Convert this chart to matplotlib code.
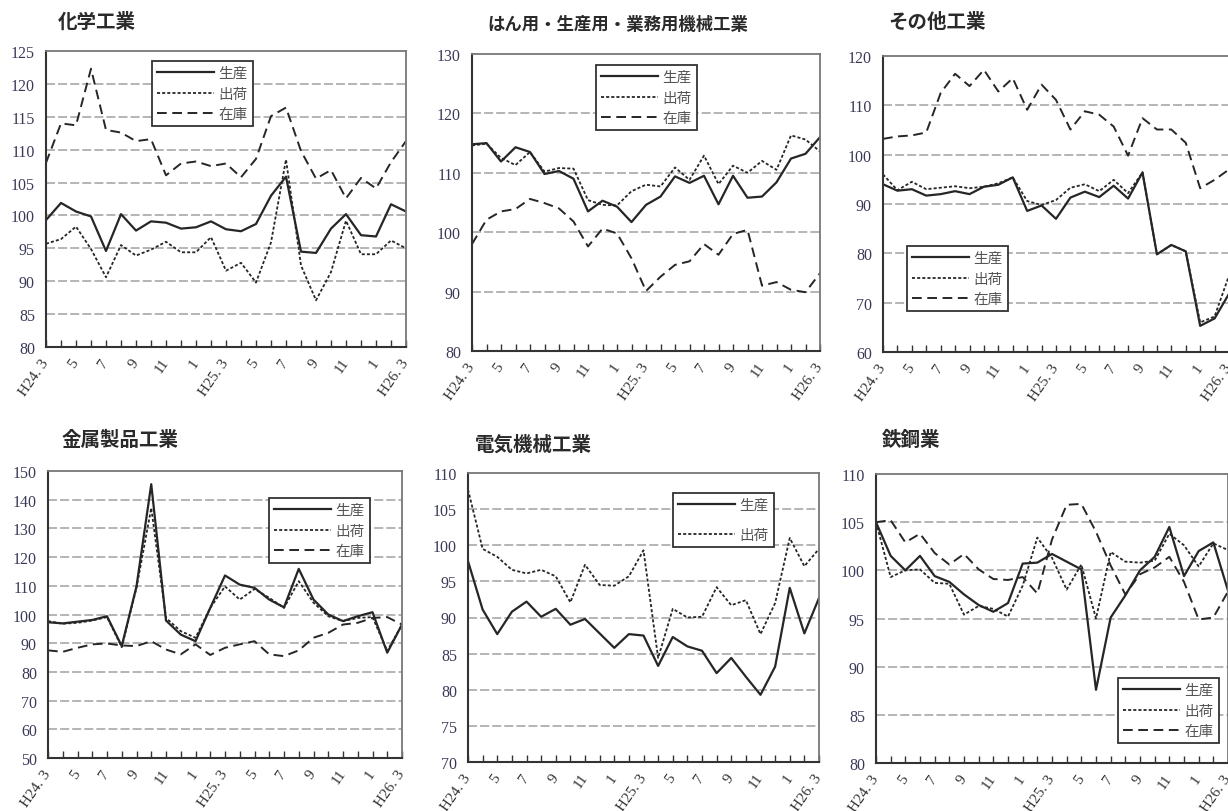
import matplotlib
matplotlib.use("Agg")
import matplotlib.pyplot as plt

plt.rcParams['font.family'] = ['Liberation Serif', 'Noto Sans CJK JP']
plt.rcParams['lines.scale_dashes'] = False

# H24.3 .. H26.3, one point per month
month_labels = ["H24. 3", "", "5", "", "7", "", "9", "", "11", "", "1", "",
                "H25. 3", "", "5", "", "7", "", "9", "", "11", "", "1", "",
                "H26. 3"]
series_names = ["生産", "出荷", "在庫"]

# 化学工業
chem_prod = [99.3, 101.9, 100.6, 99.85, 94.6, 100.2, 97.7, 99.1, 98.9, 98.0, 98.2, 99.1,
             97.9, 97.6, 98.7, 103.0, 105.9, 94.5, 94.3, 98.0, 100.2, 97.0, 96.8, 101.7, 100.6]
chem_ship = [95.7, 96.4, 98.3, 94.9, 90.6, 95.5, 93.9, 94.8, 96.0, 94.4, 94.4, 96.7,
             91.6, 92.8, 89.8, 95.9, 108.5, 92.4, 87.1, 91.4, 99.2, 94.1, 94.1, 96.2, 95.0]
chem_stock = [108.0, 114.0, 113.7, 122.3, 113.0, 112.6, 111.3, 111.6, 106.1, 107.9, 108.2, 107.5,
              107.9, 105.8, 108.6, 115.1, 116.4, 109.8, 105.6, 106.9, 102.6, 105.7, 104.1, 108.1, 111.3]

# はん用・生産用・業務用機械工業
mach_prod = [114.8, 115.0, 111.9, 114.3, 113.5, 109.8, 110.3, 109.0, 103.5, 105.3, 104.3, 101.7,
             104.6, 106.0, 109.4, 108.3, 109.5, 104.7, 109.5, 105.8, 106.0, 108.4, 112.4, 113.2, 116.0]
mach_ship = [114.6, 114.9, 112.5, 111.3, 113.5, 110.2, 110.8, 110.7, 105.4, 104.6, 104.5, 106.9,
             108.0, 107.7, 110.9, 108.8, 112.9, 108.1, 111.2, 110.0, 112.0, 110.5, 116.3, 115.6, 113.6]
mach_stock = [98.0, 102.1, 103.5, 103.9, 105.6, 104.9, 104.0, 101.8, 97.6, 100.6, 99.8, 95.6,
              90.1, 92.5, 94.5, 95.1, 98.0, 96.2, 99.7, 100.4, 91.0, 91.6, 90.3, 89.9, 93.1]

# その他工業
other_prod = [94.0, 92.7, 93.0, 91.7, 92.0, 92.6, 92.0, 93.5, 93.9, 95.4, 88.6, 89.7,
              87.0, 91.3, 92.5, 91.4, 93.7, 91.1, 96.4, 79.8, 81.7, 80.4, 65.3, 66.8, 71.8]
other_ship = [96.0, 92.8, 94.5, 93.0, 93.3, 93.6, 93.2, 93.5, 94.2, 95.4, 90.6, 89.8,
              90.8, 93.3, 94.0, 92.6, 94.9, 92.2, 96.4, 79.8, 81.7, 80.4, 66.0, 67.2, 75.5]
other_stock = [103.2, 103.7, 103.9, 104.5, 112.5, 116.4, 113.9, 117.2, 112.8, 115.5, 109.1, 114.2,
               111.1, 105.1, 108.8, 108.1, 105.7, 99.8, 107.4, 105.1, 105.1, 102.4, 93.2, 94.9, 97.0]

# 金属製品工業
metal_prod = [97.3, 96.9, 97.5, 98.1, 99.4, 89.0, 109.8, 145.4, 97.9, 93.0, 90.7, 102.3,
              113.6, 110.4, 109.3, 105.2, 102.5, 115.9, 105.2, 100.0, 97.7, 99.4, 100.8, 86.7, 96.5]
metal_ship = [97.7, 96.8, 97.1, 97.9, 99.1, 88.6, 109.3, 137.1, 98.8, 94.2, 91.9, 102.3,
              109.8, 105.2, 108.9, 105.8, 102.3, 111.6, 104.1, 99.4, 97.7, 98.8, 99.1, 87.3, 96.5]
metal_stock = [87.5, 87.0, 88.4, 89.6, 89.9, 89.2, 89.0, 90.7, 87.8, 86.1, 89.6, 85.9,
               88.4, 89.6, 90.7, 86.1, 85.5, 87.5, 91.9, 93.6, 96.5, 97.1, 98.8, 99.1, 96.5]

# 電気機械工業
elec_prod = [97.8, 91.1, 87.7, 90.8, 92.2, 90.1, 91.2, 89.0, 89.8, 87.8, 85.8, 87.7,
             87.5, 83.3, 87.3, 86.0, 85.4, 82.3, 84.4, 81.8, 79.3, 83.2, 94.1, 87.8, 92.7]
elec_ship = [107.7, 99.5, 98.4, 96.6, 96.1, 96.6, 95.7, 92.1, 97.3, 94.5, 94.4, 95.7,
             99.3, 84.4, 91.2, 90.0, 90.1, 94.2, 91.7, 92.4, 87.7, 92.0, 101.0, 97.1, 99.5]

# 鉄鋼業
steel_prod = [105.0, 101.5, 100.0, 101.5, 99.4, 98.8, 97.5, 96.4, 95.7, 96.6, 100.7, 100.8,
              101.7, 100.9, 100.1, 87.6, 95.1, 97.4, 100.0, 101.4, 104.5, 99.4, 102.0, 102.9, 97.9]
steel_ship = [105.0, 99.3, 100.0, 100.1, 98.7, 98.6, 95.4, 96.3, 96.0, 95.2, 98.4, 103.4,
              101.3, 98.0, 100.6, 95.0, 101.9, 100.9, 100.8, 101.0, 103.8, 102.6, 100.4, 102.8, 102.1]
steel_stock = [105.0, 105.2, 102.9, 103.8, 101.8, 100.6, 101.7, 100.1, 99.1, 99.0, 99.3, 97.6,
               103.2, 106.8, 106.9, 104.0, 100.5, 97.5, 99.6, 100.3, 101.4, 98.8, 94.9, 95.1, 97.8]

W, H = 1228, 812
fig = plt.figure(figsize=(W / 100, H / 100), dpi=100)

LINE = "#262626"
styles = [dict(linestyle="-", linewidth=1.6),
          dict(linestyle=(0, (2.2, 1.5)), linewidth=1.3),
          dict(linestyle=(0, (7, 4)), linewidth=1.4)]


def px_rect(left, right, top, bottom):
    return [left / W, 1 - bottom / H, (right - left) / W, (bottom - top) / H]


def panel(rect, title, title_xy, ymin, ymax, step, data, leg_xy,
          leg_spacing=0.45, title_size=14):
    ax = fig.add_axes(px_rect(*rect))
    x = range(len(month_labels))
    for vals, name, st in zip(data, series_names, styles):
        ax.plot(x, vals, color=LINE, label=name, **st)
    ax.set_xlim(0, len(month_labels) - 1)
    ax.set_ylim(ymin, ymax)
    yt = list(range(ymin, ymax + 1, step))
    ax.set_yticks(yt)
    ax.set_yticklabels([str(v) for v in yt], fontsize=11.5, color="#3a3a58")
    ax.set_xticks(list(x))
    ax.set_xticklabels(month_labels, fontsize=11, color="#333333",
                       rotation=55, ha="right", va="center", rotation_mode="anchor")
    ax.tick_params(axis="x", direction="in", length=5, width=1.0, color="#333333", pad=9)
    ax.tick_params(axis="y", length=0, pad=8)
    for v in yt[1:-1]:
        ax.axhline(v, color="#a8a8a8", linewidth=1.2, linestyle=(0, (6.5, 2.2)), zorder=0.5)
    for side in ["left", "bottom"]:
        ax.spines[side].set_color("#333333")
        ax.spines[side].set_linewidth(1.5)
    for side in ["top", "right"]:
        ax.spines[side].set_color("#777777")
        ax.spines[side].set_linewidth(1.3)
    leg = ax.legend(loc="upper left", bbox_to_anchor=leg_xy, borderaxespad=0,
                    fancybox=False, framealpha=1, edgecolor="#333333",
                    handlelength=3.9, handletextpad=0.3, labelspacing=leg_spacing,
                    borderpad=0.35,
                    prop=dict(family="Noto Sans CJK JP", size=10.5))
    leg.get_frame().set_linewidth(1.3)
    for t in leg.get_texts():
        t.set_color("#555555")
    fig.text(title_xy[0] / W, 1 - title_xy[1] / H, title, ha="left", va="center",
             fontsize=title_size, fontweight="bold", color="#2a2a2a",
             family="Noto Sans CJK JP")
    return ax


panel((46, 406, 52, 348), "化学工業", (58, 22), 80, 125, 5,
      [chem_prod, chem_ship, chem_stock], (0.294, 0.966))
panel((472, 820, 55, 352), "はん用・生産用・業務用機械工業", (487, 25), 80, 130, 10,
      [mach_prod, mach_ship, mach_stock], (0.356, 0.963), title_size=12.5)
panel((883, 1229, 57, 353), "その他工業", (888, 22), 60, 120, 10,
      [other_prod, other_ship, other_stock], (0.07, 0.358))
panel((48, 402, 472, 759), "金属製品工業", (62, 440), 50, 150, 10,
      [metal_prod, metal_ship, metal_stock], (0.624, 0.906))
panel((468, 819, 474, 763), "電気機械工業", (475, 445), 70, 110, 5,
      [elec_prod, elec_ship], (0.584, 0.931), leg_spacing=1.1)
panel((876, 1228, 475, 764), "鉄鋼業", (882, 440), 80, 110, 5,
      [steel_prod, steel_ship, steel_stock], (0.688, 0.294))

fig.savefig("out.png", dpi=100)
